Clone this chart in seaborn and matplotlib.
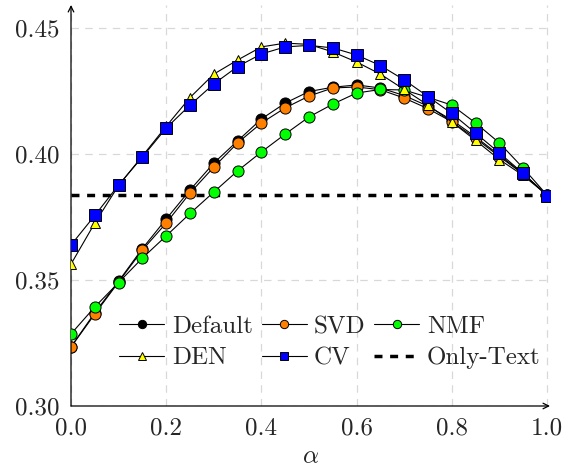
import matplotlib
matplotlib.use('Agg')
import matplotlib.pyplot as plt
import seaborn as sns
import numpy as np
from matplotlib.ticker import FormatStrFormatter, MultipleLocator

alphas = [0.0, 0.05, 0.10, 0.15, 0.20, 0.25, 0.30, 0.35, 0.40, 0.45, 0.50,
          0.55, 0.60, 0.65, 0.70, 0.75, 0.80, 0.85, 0.90, 0.95, 1.0]

default = [0.3235, 0.3370, 0.3495, 0.3625, 0.3742, 0.3857, 0.3964, 0.4052, 0.4139, 0.4202, 0.4248,
           0.4265, 0.4274, 0.4262, 0.4232, 0.4190, 0.4135, 0.4068, 0.3995, 0.3922, 0.3837]
svd = [0.3234, 0.3365, 0.3492, 0.3619, 0.3726, 0.3845, 0.3948, 0.4044, 0.4123, 0.4183, 0.4230,
       0.4262, 0.4266, 0.4255, 0.4222, 0.4180, 0.4128, 0.4062, 0.3990, 0.3920, 0.3837]
nmf = [0.3286, 0.3393, 0.3490, 0.3587, 0.3675, 0.3764, 0.3849, 0.3933, 0.4008, 0.4079, 0.4147,
       0.4198, 0.4242, 0.4256, 0.4254, 0.4225, 0.4194, 0.4123, 0.4044, 0.3944, 0.3837]
den = [0.3563, 0.3726, 0.3875, 0.3992, 0.4110, 0.4224, 0.4317, 0.4373, 0.4425, 0.4440, 0.4435,
       0.4405, 0.4365, 0.4317, 0.4256, 0.4194, 0.4127, 0.4054, 0.3978, 0.3915, 0.3837]
cv = [0.3639, 0.3756, 0.3877, 0.3988, 0.4103, 0.4194, 0.4278, 0.4347, 0.4397, 0.4425, 0.4431,
      0.4421, 0.4393, 0.4351, 0.4294, 0.4228, 0.4161, 0.4083, 0.4004, 0.3923, 0.3835]
only_text = 0.3837

sns.set_style('white')
plt.rcParams['font.family'] = ['cmr10', 'DejaVu Serif']
plt.rcParams['mathtext.fontset'] = 'cm'
plt.rcParams['axes.formatter.use_mathtext'] = True

fig = plt.figure(figsize=(5.67, 4.70), dpi=100)
ax = fig.add_axes([71 / 567, 1 - 406 / 470, (550 - 71) / 567, (406 - 5) / 470])

# baseline first so markers sit on top of it
ax.axhline(only_text, color='black', linewidth=2.5, dashes=(2.3, 2.2), zorder=1, label='Only-Text')

series = [
    ('Default', default, 'o', 'black', 8),
    ('SVD', svd, 'o', '#ff8000', 8),
    ('NMF', nmf, 'o', '#00ff00', 8),
    ('DEN', den, '^', '#ffff00', 7),
    ('CV', cv, 's', '#0000ff', 8),
]
for i, (name, vals, mk, col, ms) in enumerate(series):
    sns.lineplot(x=alphas, y=vals, ax=ax, color='black', linewidth=0.8,
                 marker=mk, markerfacecolor=col, markeredgecolor='black',
                 markeredgewidth=0.7, markersize=ms, label=name, zorder=2 + i)

ax.set_xlim(0, (550 - 71) / 476)
ax.set_ylim(0.30, 0.30 + 401 / 2520)
ax.xaxis.set_major_formatter(FormatStrFormatter('%.1f'))
ax.yaxis.set_major_formatter(FormatStrFormatter('%.2f'))
ax.set_xticks([0.0, 0.2, 0.4, 0.6, 0.8, 1.0])
ax.set_yticks([0.30, 0.35, 0.40, 0.45])
ax.tick_params(labelsize=18, direction='out', length=4, width=0.8, pad=4)
ax.grid(True, color='#d8d8d8', linestyle=(0, (6, 5)), linewidth=0.9)

for s in ax.spines.values():
    s.set_visible(False)
ax.annotate('', xy=(1, 0), xytext=(0, 0), xycoords='axes fraction',
            arrowprops=dict(arrowstyle='->', lw=0.9, color='black', shrinkA=0, shrinkB=0, mutation_scale=10))
ax.annotate('', xy=(0, 1), xytext=(0, 0), xycoords='axes fraction',
            arrowprops=dict(arrowstyle='->', lw=0.9, color='black', shrinkA=0, shrinkB=0, mutation_scale=10))

ax.set_xlabel(r'$\alpha$', fontsize=18, labelpad=5)
ax.set_ylabel('')

handles, labels = ax.get_legend_handles_labels()
lookup = dict(zip(labels, handles))
order = ['Default', 'DEN', 'SVD', 'CV', 'NMF', 'Only-Text']
ax.legend([lookup[k] for k in order], order, ncol=3, loc='center',
          bbox_to_anchor=(330 / 567, 1 - 342.5 / 470), bbox_transform=fig.transFigure,
          frameon=False, fontsize=18, handlelength=1.8, handletextpad=0.3,
          columnspacing=0.35, labelspacing=0.35, borderpad=0, markerscale=0.75)

fig.savefig('out.png', dpi=100)
